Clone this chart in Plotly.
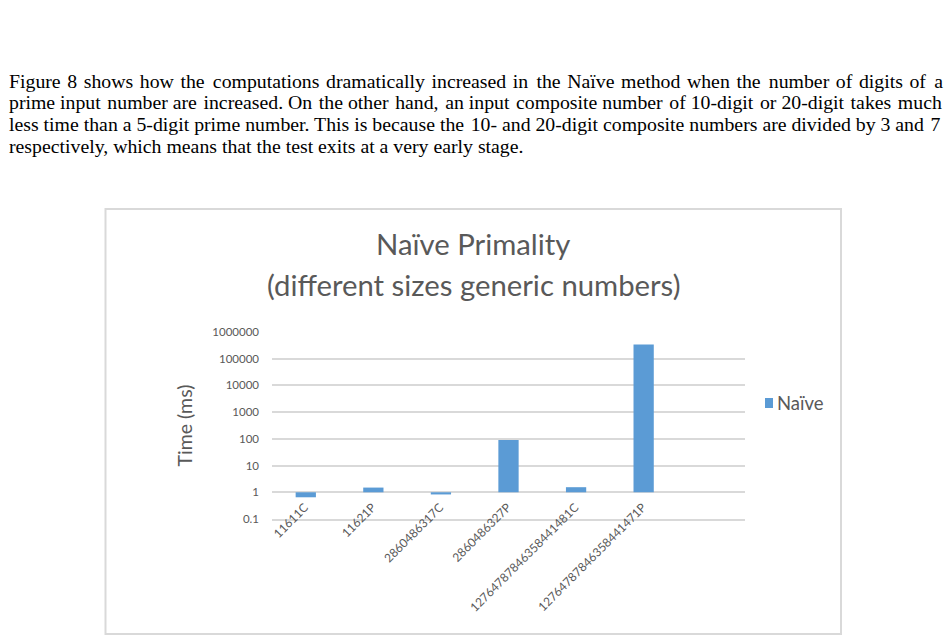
import plotly.graph_objects as go

# ---- data ----
categories = ["11611C", "11621P", "2860486317C", "2860486327P",
              "12764787846358441481C", "12764787846358441471P"]
naive_ms = [0.65, 1.5, 0.83, 90, 1.55, 340000]
series_name = "Naïve"
ytick_vals = [0.1, 1, 10, 100, 1000, 10000, 100000, 1000000]
ytick_text = ["0.1", "1", "10", "100", "1000", "10000", "100000", "1000000"]
paragraph = [
    "Figure 8 shows how the computations dramatically increased in the Naïve method when the number of digits of a",
    "prime input number are increased. On the other hand, an input composite number of 10-digit or 20-digit takes much",
    "less time than a 5-digit prime number. This is because the 10- and 20-digit composite numbers are divided by 3 and 7",
    "respectively, which means that the test exits at a very early stage.",
]
# hair spaces added per line to imitate the justified paragraph
line_pad = [22, 10, 2, 0]
title_lines = ["Naïve Primality", "(different sizes generic numbers)"]
y_title = "Time (ms)"

# ---- layout geometry (pixels) ----
W, H = 949, 642
L, R, T, B = 272, 745, 332, 519

def px(x):
    return (x - L) / (R - L)

def py(y):
    return (B - y) / (B - T)

def justify(line, k):
    words = line.split(" ")
    g = len(words) - 1
    if k <= 0 or g <= 0:
        return line
    out = words[0]
    for j in range(g):
        n = ((j + 1) * k) // g - (j * k) // g
        out += " " + "\u200a" * n + words[j + 1]
    return out

GRAY = "#595959"
BAR = "#5B9BD5"
GRID = "#d9d9d9"

fig = go.Figure()
fig.add_trace(go.Bar(
    x=categories,
    y=[v - 1 for v in naive_ms],
    base=1,
    name=series_name,
    marker=dict(color=BAR, line=dict(width=0)),
    width=0.3,
    showlegend=False,
))

fig.update_layout(
    width=W, height=H,
    margin=dict(l=L, r=W - R, t=T, b=H - B, pad=0),
    paper_bgcolor="white", plot_bgcolor="white",
    font=dict(family="Lato", color=GRAY),
    showlegend=False,
    xaxis=dict(range=[-0.5, 6.5], tickangle=-45, showgrid=False, automargin=False,
               showline=True, linecolor=GRID, linewidth=1.5, zeroline=False, ticks="",
               ticklabelstandoff=-25, ticklabelshift=-1,
               tickfont=dict(family="Lato", size=12, color=GRAY)),
    yaxis=dict(type="log", range=[-1, 6], tickvals=ytick_vals, ticktext=ytick_text,
               automargin=False,
               showgrid=True, gridcolor=GRID, gridwidth=1.5, showline=False,
               zeroline=False, ticks="", ticklabelstandoff=12,
               tickfont=dict(family="Lato", size=11.5, color=GRAY),
               title=dict(text=y_title, standoff=14,
                          font=dict(family="Lato", size=19.5, color=GRAY))),
)

# chart frame
fig.add_shape(type="rect", xref="paper", yref="paper",
              x0=px(105.5), x1=px(841), y0=py(634), y1=py(209),
              line=dict(color=GRID, width=2), fillcolor="rgba(0,0,0,0)", layer="below")

# legend (key square + label)
fig.add_shape(type="rect", xref="paper", yref="paper",
              x0=px(765), x1=px(773), y0=py(408), y1=py(398),
              line=dict(width=0), fillcolor=BAR)
fig.add_annotation(text=series_name, xref="paper", yref="paper", x=px(775), y=py(403),
                   xanchor="left", yanchor="middle", showarrow=False,
                   font=dict(family="Lato", size=18.5, color=GRAY))

# chart title (two lines)
for txt, yc in zip(title_lines, [243, 284]):
    fig.add_annotation(text=txt, xref="paper", yref="paper", x=px(473), y=py(yc),
                       xanchor="center", yanchor="middle", showarrow=False,
                       font=dict(family="Lato", size=29.3, color=GRAY))

# paragraph text above the chart
for i, (line, pad) in enumerate(zip(paragraph, line_pad)):
    fig.add_annotation(text=justify(line, pad), xref="paper", yref="paper",
                       x=px(7), y=py(80.5 + 21.7 * i),
                       xanchor="left", yanchor="middle", showarrow=False,
                       font=dict(family="Liberation Serif", size=19.8, color="black"))

fig.write_html("out.html")
